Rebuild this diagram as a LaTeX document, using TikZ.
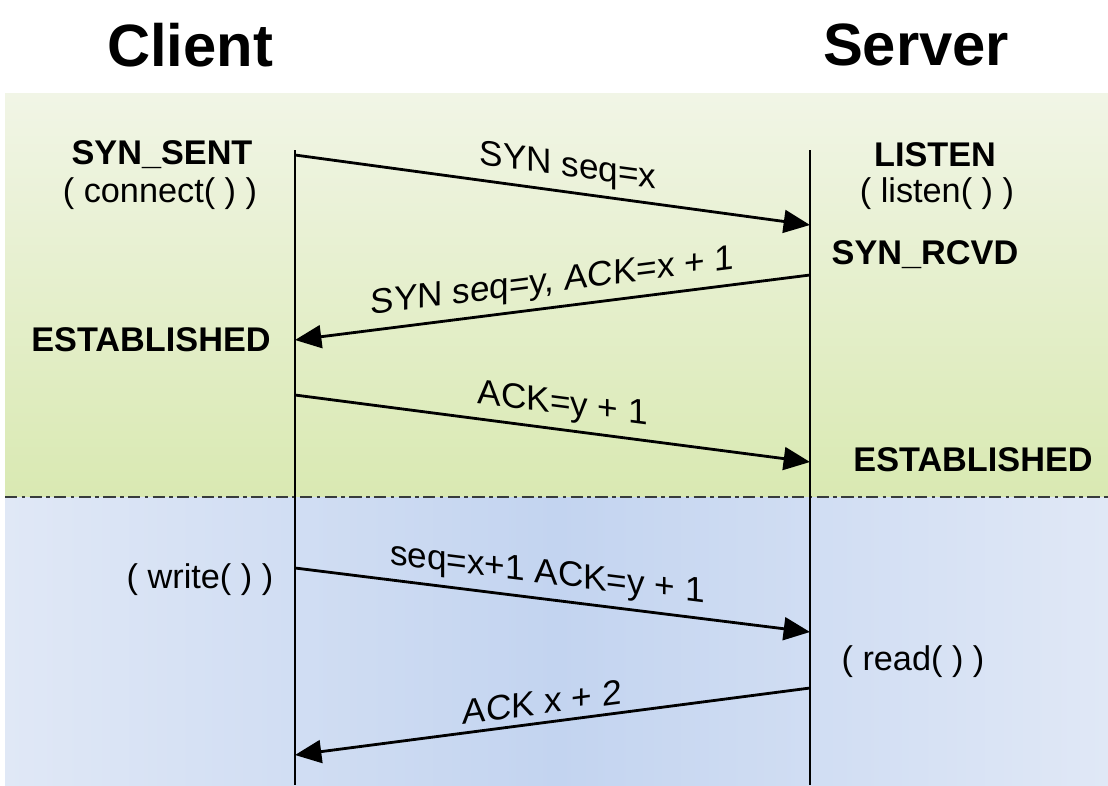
\documentclass[tikz,border=0pt]{standalone}
\usepackage{fontspec}
\setmainfont{Liberation Sans}
\usetikzlibrary{arrows.meta}
\definecolor{greentop}{RGB}{241,245,230}
\definecolor{greenbot}{RGB}{217,233,178}
\definecolor{blueedge}{RGB}{224,232,246}
\definecolor{bluemid}{RGB}{195,212,240}
\definecolor{rulegray}{RGB}{55,60,60}

\begin{document}
\begin{tikzpicture}[x=0.02cm, y=0.02cm,
  title/.style={font=\fontsize{34}{40}\selectfont\bfseries},
  state/.style={font=\fontsize{19.5}{23}\selectfont\bfseries},
  call/.style={font=\fontsize{19.5}{23}\selectfont},
  msg/.style={line width=1.6pt, -{Triangle[length=15pt,width=13pt]}},
  msglabel/.style={font=\fontsize{20}{24}\selectfont, above, inner sep=4pt, yslant=#1},
  lifeline/.style={line width=1.1pt}]
\useasboundingbox (0,0) rectangle (1108,-785);
% background bands
\fill[white] (0,0) rectangle (1108,-785);
\shade[top color=greentop, bottom color=greenbot] (5,-93) rectangle (1108,-497);
\shade[left color=blueedge, right color=blueedge, middle color=bluemid] (5,-497) rectangle (1108,-785);
\draw[rulegray, line width=1.2pt, dash pattern=on 7pt off 2.5pt on 2pt off 2.5pt] (5,-497) -- (1108,-497);

% titles
\node[title] (client) at (190,-45) {Client};
\node[title] (server) at (916,-45) {Server};

% lifelines
\coordinate (ctop) at (295,-150);
\coordinate (cbot) at (295,-785);
\coordinate (stop) at (810,-150);
\coordinate (sbot) at (810,-785);
\draw[lifeline] (ctop) -- (cbot);
\draw[lifeline] (stop) -- (sbot);

% message ends
\coordinate (c1) at (295,-155);
\coordinate (s1) at (810,-225);
\coordinate (s2) at (810,-275);
\coordinate (c2) at (295,-340);
\coordinate (c3) at (295,-395);
\coordinate (s3) at (810,-462);
\coordinate (c4) at (295,-568);
\coordinate (s4) at (810,-632);
\coordinate (s5) at (810,-688);
\coordinate (c5) at (295,-755);

% handshake
\draw[msg] (c1) -- node[msglabel=-0.136, pos=0.53] {SYN seq=x} (s1);
\draw[msg] (s2) -- node[msglabel=0.126, pos=0.5] {SYN seq=y, ACK=x + 1} (c2);
\draw[msg] (c3) -- node[msglabel=-0.130, pos=0.52] {ACK=y + 1} (s3);
% data
\draw[msg] (c4) -- node[msglabel=-0.124, pos=0.49] {seq=x+1 ACK=y + 1} (s4);
\draw[msg] (s5) -- node[msglabel=0.130, pos=0.52] {ACK x + 2} (c5);

% client states
\node[state] (synsent) at (162,-155) {SYN\_SENT};
\node[call] (connect) at (160,-194) {( connect( ) )};
\node[state] (cestab) at (151,-340) {ESTABLISHED};
\node[call] (write) at (200,-580) {( write( ) )};

% server states
\node[state] (listen) at (935,-155) {LISTEN};
\node[call] (listencall) at (937,-194) {( listen( ) )};
\node[state] (synrcvd) at (925,-255) {SYN\_RCVD};
\node[state] (sestab) at (973,-460) {ESTABLISHED};
\node[call] (read) at (913,-662) {( read( ) )};
\end{tikzpicture}
\end{document}
